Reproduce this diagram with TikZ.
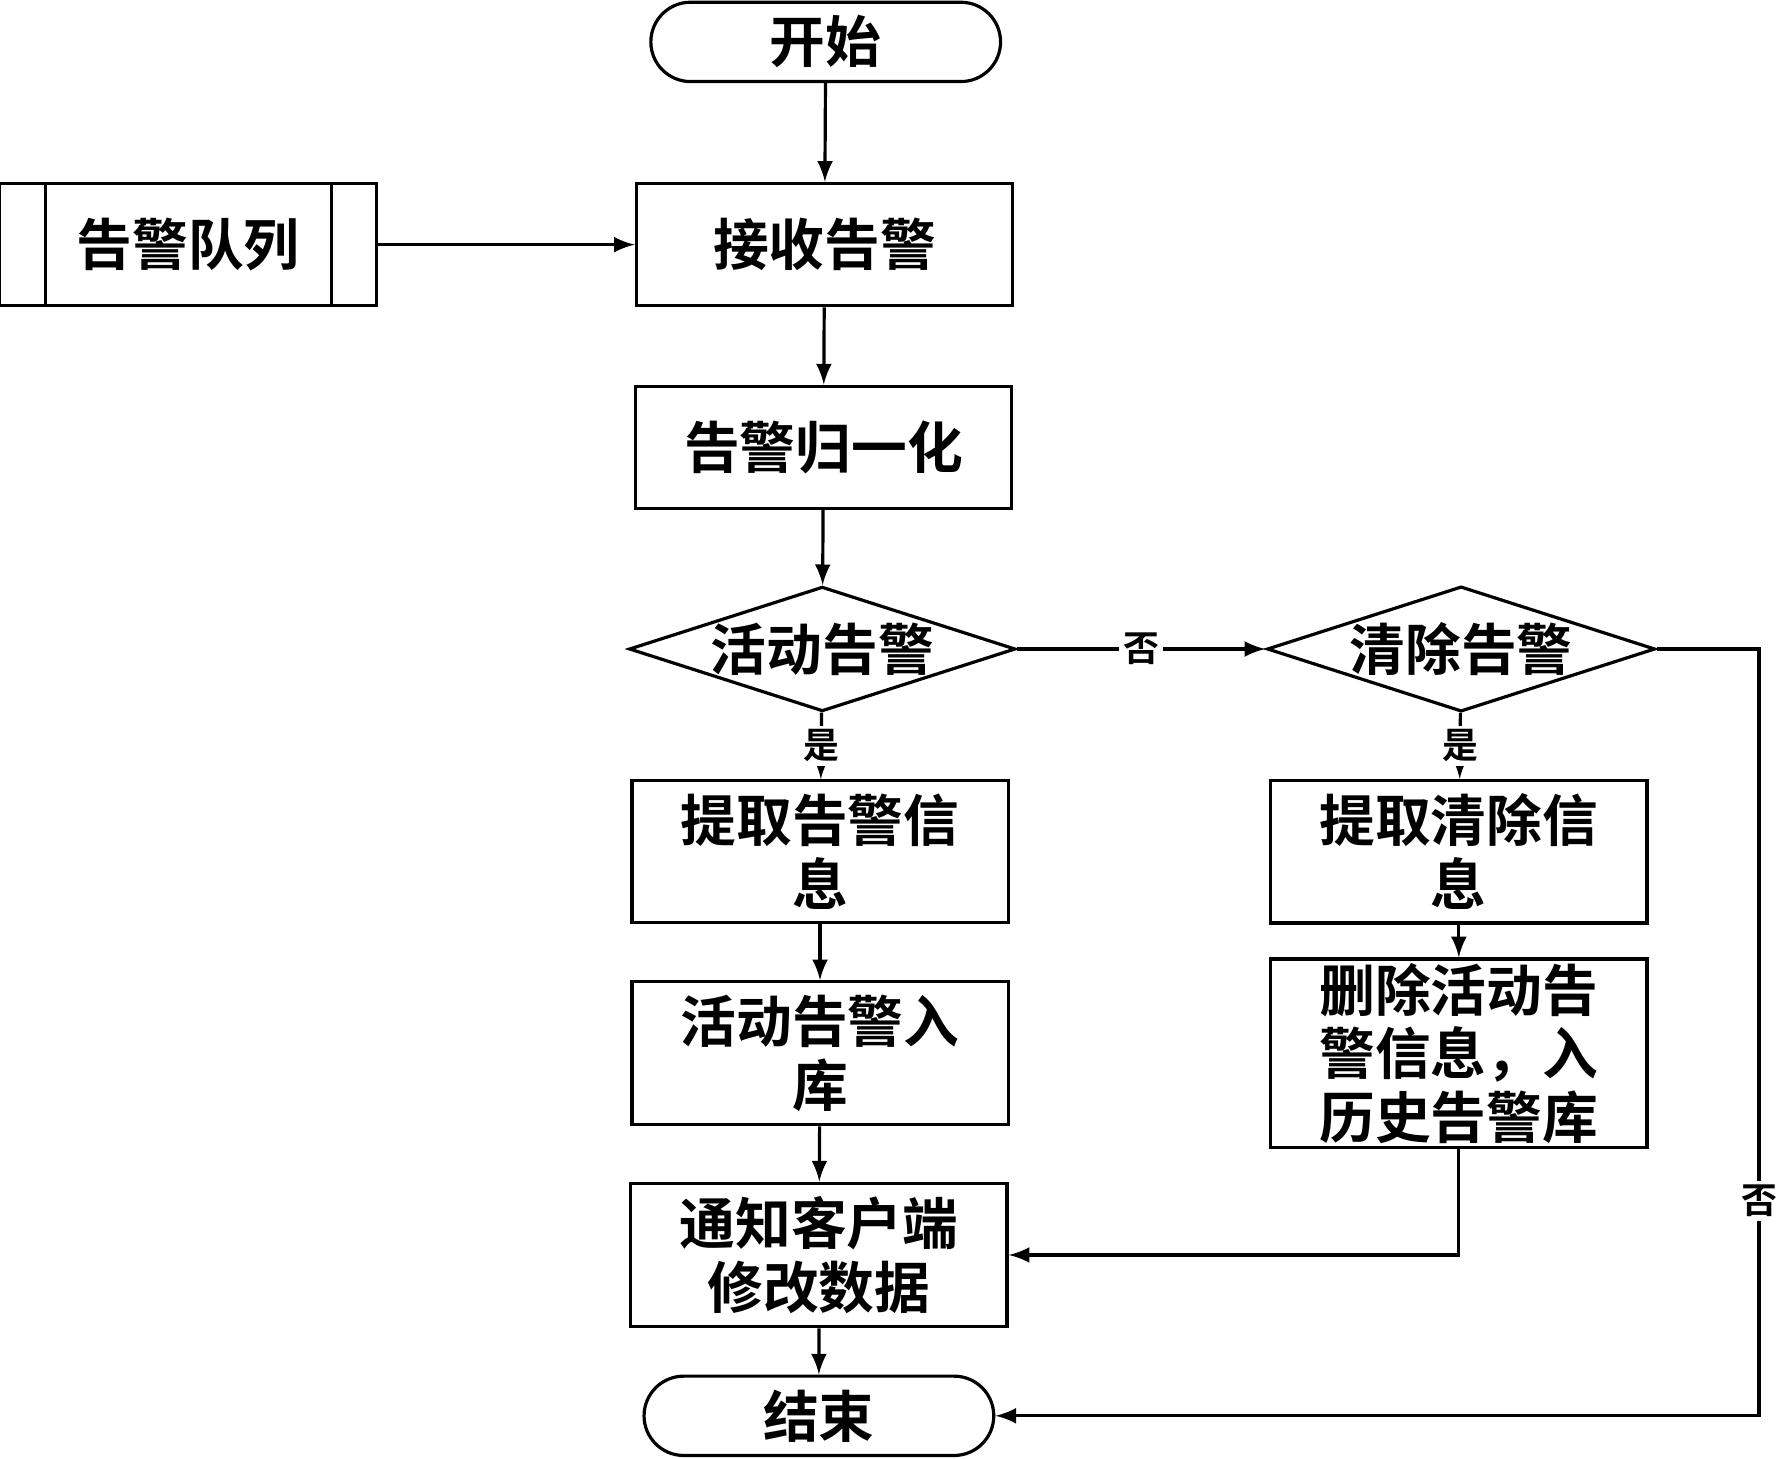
\documentclass[tikz,border=0pt]{standalone}
\usepackage{fontspec}
\setmainfont{Noto Sans CJK SC}[BoldFont={Noto Sans CJK SC Bold}]
\usetikzlibrary{arrows, shapes, shapes.geometric}
\tikzset{
    box/.style={draw, thick, minimum width=3.32cm, minimum height=1.08cm, align=center, font=\fontsize{14}{16}\selectfont\bfseries},
    term/.style={draw, thick, rounded rectangle, minimum width=3.32cm, minimum height=0.70cm, font=\fontsize{14}{16}\selectfont\bfseries},
    test/.style={draw, thick, diamond, aspect=3.1, minimum width=3.32cm, minimum height=1.07cm, inner sep=0pt, font=\fontsize{14}{16}\selectfont\bfseries},
    flow/.style={->, >=latex, thick},
    lbl/.style={font=\fontsize{9}{10}\selectfont\bfseries, fill=white, inner sep=1pt}
}
\begin{document}
\begin{tikzpicture}[x=0.01cm, y=-0.01cm]
            \useasboundingbox (0,0) rectangle (1568,1288);
            \node[term] (start) at (729, 37) {开始};
            \node[box] (queue) at (166,216) {告警队列};
            \draw[thick] (40,162)--(40,270) (293,162)--(293,270);
            \node[box] (recv) at (728,216) {接收告警};
            \node[box] (norm) at (727,395) {告警归一化};
            
            \node[test] (active) at (726,573) {活动告警};
            \node[test] (clear) at (1290,573) {清除告警};
            
            \node[box] (getact) at (724,752) {提取告警信\\息};
            \node[box] (getclr) at (1288,752) {提取清除信\\息};
            \node[box] (store) at (724,930) {活动告警入\\库};
            \node[box, inner sep=1pt] (hist) at (1288,930) {删除活动告\\警信息，入\\历史告警库};
            \node[box] (notify) at (723,1108) {通知客户端\\修改数据};
            \node[term] (stop) at (723,1250) {结束};
            
            \coordinate (c1) at (1553,573);
            \coordinate (c2) at (1553,1250);
            
            \draw[flow] (start)--(recv);
            \draw[flow] (queue)--(recv);
            \draw[flow] (recv)--(norm);
            \draw[flow] (norm)--(active);
            \draw[flow] (active)--node[lbl]{否}(clear);
            \draw[flow] (active)--node[lbl, pos=0.5]{是}(getact);
            \draw[flow] (clear)--node[lbl, pos=0.5]{是}(getclr);
            \draw[flow] (getact)--(store);
            \draw[flow] (getclr)--(hist);
            \draw[flow] (store)--(notify);
            \draw[flow] (hist.south) |- (notify.east);
            \draw[flow] (notify)--(stop);
            \draw[flow] (clear.east)--(c1)--node[lbl, pos=0.72]{否}(c2)--(stop.east);
\end{tikzpicture}
\end{document}
